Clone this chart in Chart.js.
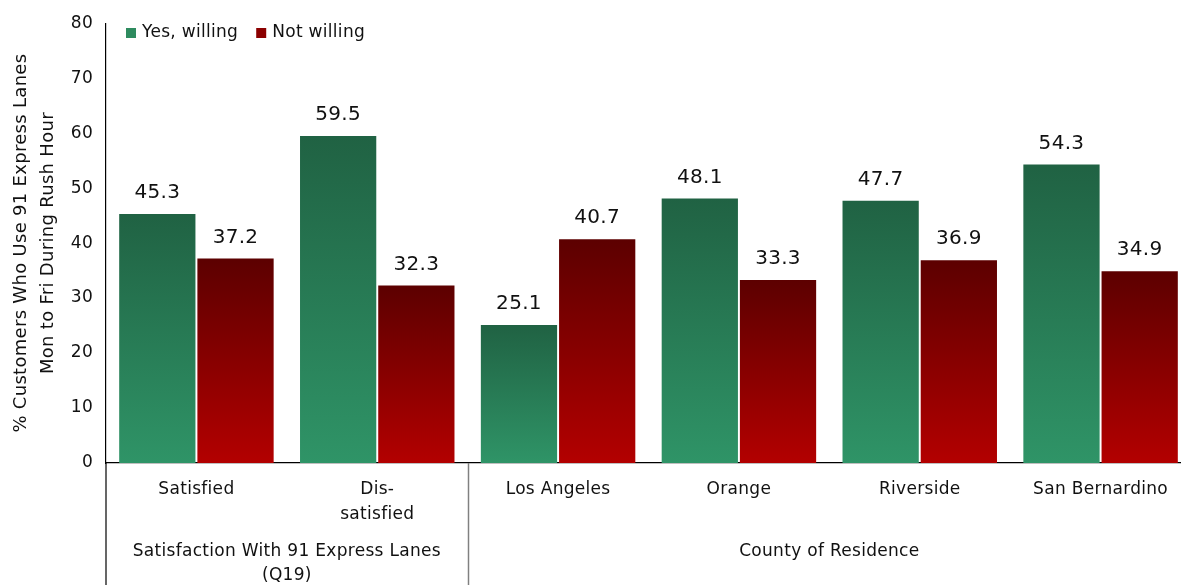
<!DOCTYPE html>
<html><head><meta charset="utf-8">
<script src="https://cdn.jsdelivr.net/npm/chart.js@4.4.0/dist/chart.umd.min.js"></script>
<style>
html,body{margin:0;padding:0;background:#fff;overflow:hidden;width:1181px;height:585px;}
#wrap{position:absolute;left:0;top:0;width:1191px;height:585px;}
</style></head>
<body>
<div id="wrap"><canvas id="c" width="1191" height="585"></canvas></div>
<script>
const categories = ["Satisfied", ["Dis-", "satisfied"], "Los Angeles", "Orange", "Riverside", "San Bernardino"];
const yesWilling = [45.3, 59.5, 25.1, 48.1, 47.7, 54.3];
const notWilling = [37.2, 32.3, 40.7, 33.3, 36.9, 34.9];
const seriesNames = ["Yes, willing", "Not willing"];
const groupLabels = [["Satisfaction With 91 Express Lanes", "(Q19)"], ["County of Residence"]];
const groupRanges = [[0, 1], [2, 5]];
const yTicks = [0, 10, 20, 30, 40, 50, 60, 70, 80];

const FONT = "'DejaVu Sans', sans-serif";
const TXT = '#111';
const SPACING = '0.3px';

function grad(top, bottom) {
  return (ctx) => {
    const chart = ctx.chart;
    if (!chart.chartArea || ctx.raw === undefined) return bottom;
    const ys = chart.scales.y;
    const t = ys.getPixelForValue(ctx.raw);
    const b = ys.getPixelForValue(0);
    const g = chart.ctx.createLinearGradient(0, t, 0, b);
    g.addColorStop(0, top);
    g.addColorStop(1, bottom);
    return g;
  };
}

const legendSwatch = ['#2e8b5f', '#8b0000'];

const spacingPlugin = {
  id: 'spacing',
  beforeUpdate(chart) { chart.ctx.letterSpacing = SPACING; },
  beforeLayout(chart) { chart.ctx.letterSpacing = SPACING; },
  beforeDraw(chart) { chart.ctx.letterSpacing = SPACING; }
};

const extras = {
  id: 'extras',
  afterDatasetsDraw(chart) {
    const ctx = chart.ctx;
    const ca = chart.chartArea;
    const xs = chart.scales.x;
    ctx.save();
    ctx.letterSpacing = SPACING;
    // value labels
    ctx.font = "20px " + FONT;
    ctx.fillStyle = TXT;
    ctx.textAlign = 'center';
    ctx.textBaseline = 'middle';
    chart.data.datasets.forEach((ds, i) => {
      chart.getDatasetMeta(i).data.forEach((el, j) => {
        ctx.fillText(ds.data[j].toFixed(1), el.x, el.y - 21);
      });
    });
    // legend
    ctx.font = "17px " + FONT;
    ctx.textAlign = 'left';
    let lx = ca.left + 20;
    const ly = 33;
    chart.data.datasets.forEach((ds, i) => {
      ctx.fillStyle = legendSwatch[i];
      ctx.fillRect(lx, ly - 5, 10, 10);
      ctx.fillStyle = TXT;
      ctx.fillText(ds.label, lx + 16, ly);
      lx += 16 + ctx.measureText(ds.label).width + 18;
    });
    // axis extension & separators
    const H = chart.height;
    ctx.strokeStyle = '#000';
    ctx.lineWidth = 1.2;
    ctx.beginPath();
    ctx.moveTo(ca.left, ca.bottom);
    ctx.lineTo(ca.left, H);
    ctx.stroke();
    ctx.strokeStyle = '#808080';
    ctx.lineWidth = 1.5;
    for (let g = 0; g < groupRanges.length - 1; g++) {
      const a = xs.getPixelForValue(groupRanges[g][1]);
      const b = xs.getPixelForValue(groupRanges[g + 1][0]);
      const sx = Math.round((a + b) / 2) + 0.5;
      ctx.beginPath();
      ctx.moveTo(sx, ca.bottom);
      ctx.lineTo(sx, H);
      ctx.stroke();
    }
    // group labels
    ctx.fillStyle = TXT;
    ctx.font = "17px " + FONT;
    ctx.textAlign = 'center';
    groupLabels.forEach((lab, g) => {
      const cx = (xs.getPixelForValue(groupRanges[g][0]) + xs.getPixelForValue(groupRanges[g][1])) / 2;
      lab.forEach((line, k) => ctx.fillText(line, cx, 552 + k * 24));
    });
    ctx.restore();
  }
};

new Chart(document.getElementById('c'), {
  type: 'bar',
  data: {
    labels: categories,
    datasets: [
      { label: seriesNames[0], data: yesWilling, backgroundColor: grad('#206243', '#2f9467'), borderWidth: 0, categoryPercentage: 0.865, barPercentage: 0.975 },
      { label: seriesNames[1], data: notWilling, backgroundColor: grad('#5c0000', '#b30000'), borderWidth: 0, categoryPercentage: 0.865, barPercentage: 0.975 }
    ]
  },
  options: {
    responsive: false,
    animation: false,
    layout: { padding: { top: 23, right: 0, left: 0, bottom: 0 } },
    plugins: { legend: { display: false }, tooltip: { enabled: false } },
    scales: {
      x: {
        grid: { display: false, drawTicks: false },
        border: { display: true, color: '#000', width: 1.2 },
        ticks: { color: TXT, font: { family: FONT, size: 17, lineHeight: 1.42 }, padding: 15, maxRotation: 0, autoSkip: false },
        afterFit: (s) => { s.height = 122; }
      },
      y: {
        min: 0, max: 80,
        afterBuildTicks: (s) => { s.ticks = yTicks.map(v => ({ value: v })); },
        grid: { display: false, drawTicks: false },
        border: { display: true, color: '#000', width: 1.2 },
        ticks: { color: TXT, font: { family: FONT, size: 17 }, padding: 13 },
        title: { display: true, text: ["% Customers Who Use 91 Express Lanes", "Mon to Fri During Rush Hour"], color: TXT, font: { family: FONT, size: 18, lineHeight: 1.5 }, padding: { top: 8, bottom: 0 } },
        afterFit: (s) => { s.width = 106; }
      }
    }
  },
  plugins: [spacingPlugin, extras]
});
</script>
</body></html>
